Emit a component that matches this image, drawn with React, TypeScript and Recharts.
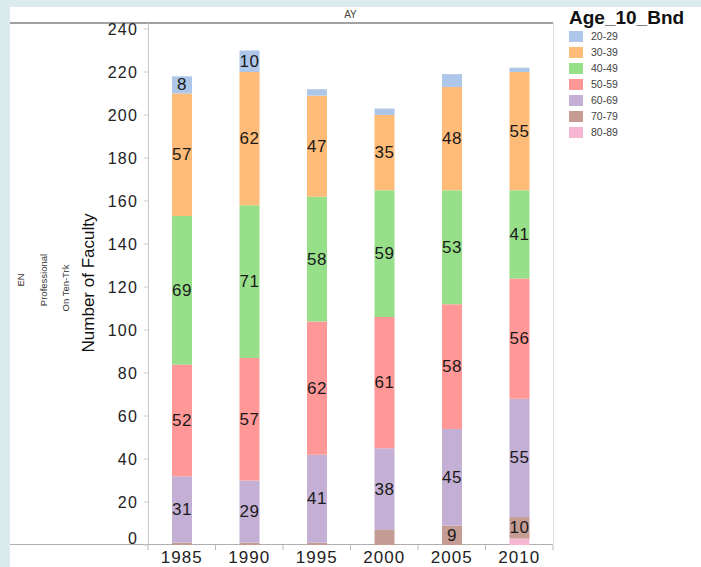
import React from "react";
import { BarChart, Bar, XAxis, YAxis, LabelList } from "recharts";

// academic years
const years = ["1985", "1990", "1995", "2000", "2005", "2010"];

// faculty counts per age band, one entry per year
const age20_29 = [8, 10, 3, 3, 6, 2];
const age30_39 = [57, 62, 47, 35, 48, 55];
const age40_49 = [69, 71, 58, 59, 53, 41];
const age50_59 = [52, 57, 62, 61, 58, 56];
const age60_69 = [31, 29, 41, 38, 45, 55];
const age70_79 = [1, 1, 1, 7, 9, 10];
const age80_89 = [0, 0, 0, 0, 0, 3];

const yTicks = [0, 20, 40, 60, 80, 100, 120, 140, 160, 180, 200, 220, 240];

// bottom of the stack first
const bands = [
  { key: "80-89", values: age80_89, color: "#f7b6d2" },
  { key: "70-79", values: age70_79, color: "#c49c94" },
  { key: "60-69", values: age60_69, color: "#c5b0d5" },
  { key: "50-59", values: age50_59, color: "#ff9896" },
  { key: "40-49", values: age40_49, color: "#98df8a" },
  { key: "30-39", values: age30_39, color: "#ffbb78" },
  { key: "20-29", values: age20_29, color: "#aec7e8" },
];

const data = years.map((y, i) => {
  const row: Record<string, any> = { year: y };
  bands.forEach((b) => (row[b.key] = b.values[i]));
  return row;
});

const FONT = '"Liberation Sans", Arial, sans-serif';

const SegmentLabel = (props: any) => {
  const { x, y, width, height, value } = props;
  if (value < 8) return null;
  return (
    <text
      x={x + width / 2}
      y={y + height / 2}
      textAnchor="middle"
      dominantBaseline="central"
      fontSize={17}
      letterSpacing={0.6}
      fill="#1a1a1a"
      fontFamily={FONT}
    >
      {value}
    </text>
  );
};

const YearTick = (props: any) => {
  const { x, y, payload } = props;
  return (
    <g>
      <line x1={x - 33.75} x2={x - 33.75} y1={y} y2={y + 5} stroke="#bbb" />
      {payload.index === years.length - 1 && (
        <line x1={x + 33.75} x2={x + 33.75} y1={y} y2={y + 5} stroke="#bbb" />
      )}
      <text
        x={x}
        y={y + 18}
        textAnchor="middle"
        fontSize={17}
        letterSpacing={1}
        fill="#222"
        fontFamily={FONT}
      >
        {payload.value}
      </text>
    </g>
  );
};

const CountTick = (props: any) => {
  const { x, y, payload } = props;
  // the 0 label sits above the baseline, like the original
  const shift = payload.value === 0 ? -7 : 0;
  return (
    <text
      x={x}
      y={y + shift}
      textAnchor="end"
      dominantBaseline="central"
      fontSize={16}
      letterSpacing={1.2}
      fill="#222"
      fontFamily={FONT}
    >
      {payload.value}
    </text>
  );
};

export default function App() {
  return (
    <div
      style={{
        position: "absolute",
        left: 0,
        top: 0,
        width: 701,
        height: 567,
        background: "#dcebee",
        overflow: "hidden",
        fontFamily: FONT,
      }}
    >
      <div
        style={{ position: "absolute", left: 10, top: 7, right: 0, bottom: 0, background: "#fff" }}
      />
      {/* frame lines */}
      <div style={{ position: "absolute", left: 10, top: 22, width: 543, height: 2, background: "#a0a0a0" }} />
      <div style={{ position: "absolute", left: 10, top: 544, width: 543, height: 1, background: "#b0b0b0" }} />
      <div style={{ position: "absolute", left: 553, top: 23, width: 1, height: 521, background: "#ddd" }} />
      <div style={{ position: "absolute", left: 148, top: 23, width: 1, height: 521, background: "#c8c8c8" }} />
      <div
        style={{
          position: "absolute",
          left: 148,
          width: 405,
          top: 9,
          textAlign: "center",
          fontSize: 10,
          color: "#444",
        }}
      >
        AY
      </div>
      <svg
        width={140}
        height={567}
        style={{ position: "absolute", left: 0, top: 0 }}
        fontFamily={FONT}
      >
        <text x={20} y={280} transform="rotate(-90 20 280)" textAnchor="middle" dominantBaseline="central" fontSize={9.5} fill="#333">
          EN
        </text>
        <text x={43} y={280} transform="rotate(-90 43 280)" textAnchor="middle" dominantBaseline="central" fontSize={9.5} fill="#333">
          Professional
        </text>
        <text x={65} y={288} transform="rotate(-90 65 288)" textAnchor="middle" dominantBaseline="central" fontSize={9.5} fill="#333">
          On Ten-Trk
        </text>
        <text x={88} y={283} transform="rotate(-90 88 283)" textAnchor="middle" dominantBaseline="central" fontSize={17} fill="#111">
          Number of Faculty
        </text>
      </svg>
      {/* legend */}
      <div style={{ position: "absolute", left: 569, top: 8 }}>
        <div style={{ fontSize: 19, fontWeight: "bold", color: "#111", lineHeight: "20px" }}>
          Age_10_Bnd
        </div>
        {[...bands].reverse().map((b) => (
          <div key={b.key} style={{ display: "flex", alignItems: "center", height: 16 }}>
            <span
              style={{ width: 14, height: 11, background: b.color, display: "inline-block" }}
            />
            <span style={{ fontSize: 10.5, color: "#444", marginLeft: 8 }}>{b.key}</span>
          </div>
        ))}
      </div>
      <BarChart
        width={701}
        height={567}
        data={data}
        margin={{ top: 29, right: 148, left: 88, bottom: 0 }}
        style={{ position: "absolute", left: 0, top: 0 }}
      >
        <XAxis
          dataKey="year"
          height={22}
          axisLine={false}
          tickLine={false}
          tickSize={0}
          tickMargin={0}
          tick={<YearTick />}
          interval={0}
        />
        <YAxis
          width={60}
          domain={[0, 240]}
          ticks={yTicks}
          interval={0}
          axisLine={false}
          tickLine={{ stroke: "#ccc" }}
          tickSize={4}
          tickMargin={6}
          tick={<CountTick />}
        />
        {bands.map((b) => (
          <Bar
            key={b.key}
            dataKey={b.key}
            stackId="a"
            fill={b.color}
            barSize={20}
            isAnimationActive={false}
          >
            <LabelList dataKey={b.key} content={<SegmentLabel />} />
          </Bar>
        ))}
      </BarChart>
    </div>
  );
}
